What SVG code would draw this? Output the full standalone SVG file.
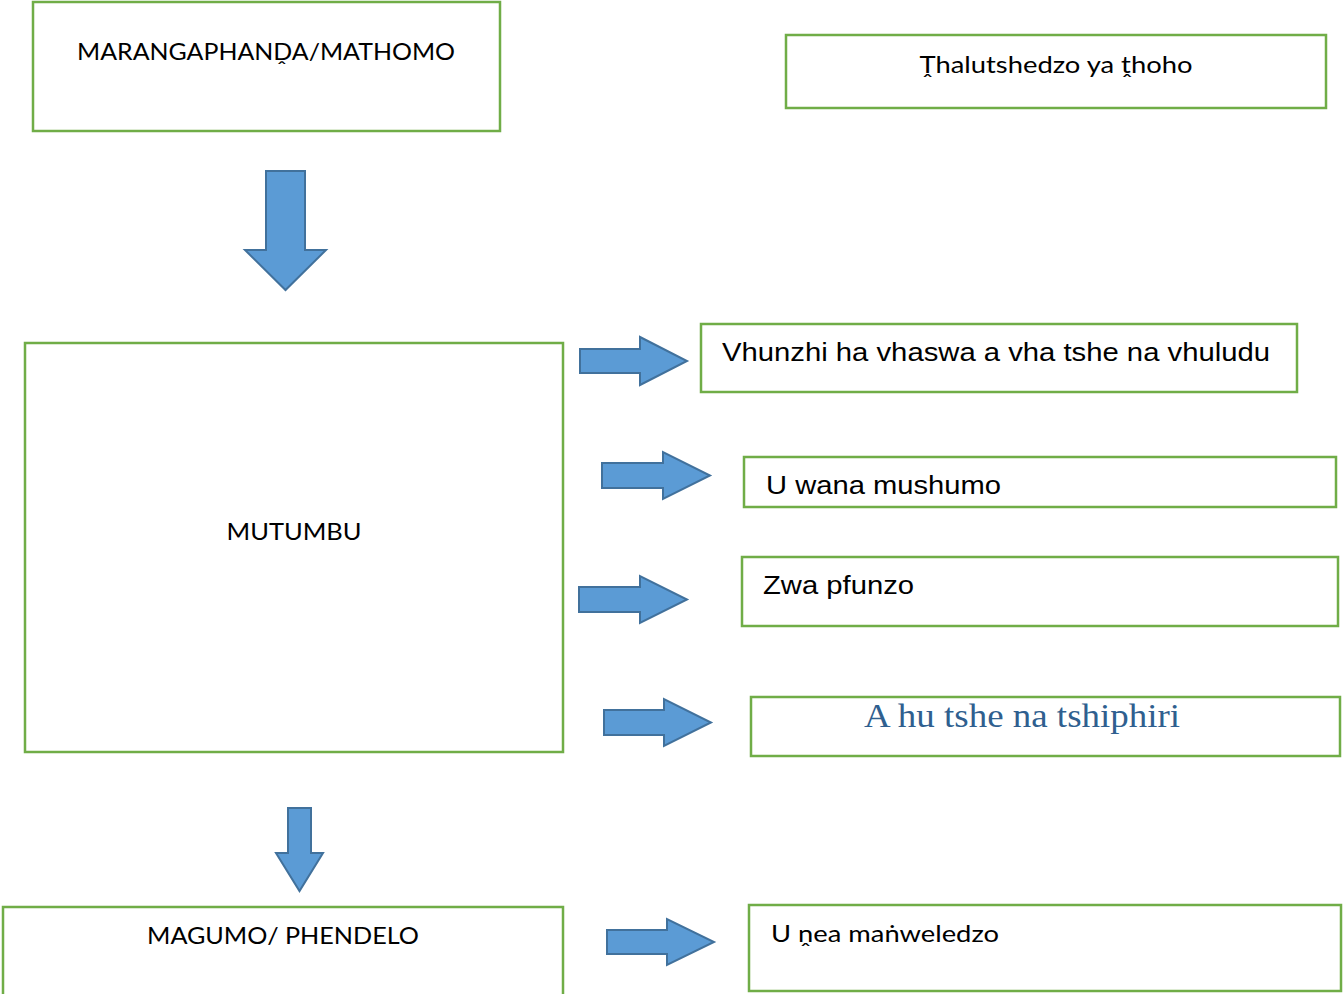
<svg xmlns="http://www.w3.org/2000/svg" width="1343" height="994" viewBox="0 0 1343 994">
<style>
.box{fill:#fff;stroke:#70ad47;stroke-width:2.5}
.arr{fill:#5b9bd5;stroke:#41719c;stroke-width:2;stroke-linejoin:miter}
.c{font-family:Lato,"Open Sans","Noto Sans",sans-serif;font-size:24px;fill:#000}
.a{font-family:"Liberation Sans",Arial,sans-serif;font-size:25px;fill:#000}
.g{font-family:"Liberation Serif","DejaVu Serif",serif;font-size:33px;fill:#2f5f8f}
</style>
<rect width="1343" height="994" fill="#fff"/>
<g id="node-marangaphanda"><rect class="box" x="33" y="2" width="467" height="129"/><text class="c" x="266" y="60" text-anchor="middle" textLength="378" lengthAdjust="spacingAndGlyphs">MARANGAPHANḒA/MATHOMO</text></g>
<g id="node-thalutshedzo"><rect class="box" x="786" y="35" width="540" height="73"/><text class="c" x="1056" y="73" text-anchor="middle" textLength="273" lengthAdjust="spacingAndGlyphs">Ṱhalutshedzo ya ṱhoho</text></g>
<g id="node-mutumbu"><rect class="box" x="25" y="343" width="538" height="409"/><text class="c" x="294" y="540" text-anchor="middle" textLength="135" lengthAdjust="spacingAndGlyphs">MUTUMBU</text></g>
<g id="node-vhunzhi"><rect class="box" x="701" y="324" width="596" height="68"/><text class="a" x="722" y="361" textLength="548" lengthAdjust="spacingAndGlyphs">Vhunzhi ha vhaswa a vha tshe na vhuludu</text></g>
<g id="node-uwana"><rect class="box" x="744" y="457" width="592" height="50"/><text class="a" x="766" y="494" textLength="235" lengthAdjust="spacingAndGlyphs">U wana mushumo</text></g>
<g id="node-zwapfunzo"><rect class="box" x="742" y="557" width="596" height="69"/><text class="a" x="763" y="594" textLength="151" lengthAdjust="spacingAndGlyphs">Zwa pfunzo</text></g>
<g id="node-ahutshe"><rect class="box" x="751" y="697" width="589" height="59"/><text class="g" x="1022" y="727" text-anchor="middle" textLength="316" lengthAdjust="spacingAndGlyphs">A hu tshe na tshiphiri</text></g>
<g id="node-magumo"><rect class="box" x="3" y="907" width="560" height="90"/><text class="c" x="283" y="944" text-anchor="middle" textLength="272" lengthAdjust="spacingAndGlyphs">MAGUMO/ PHENDELO</text></g>
<g id="node-unea"><rect class="box" x="749" y="905" width="592" height="86"/><text class="c" x="771" y="942" textLength="228" lengthAdjust="spacingAndGlyphs">U ṋea maṅweledzo</text></g>
<g id="connectors">
<path class="arr" d="M266,171 H305 V250 H326 L285.5,290 L245,250 H266 Z"/>
<path class="arr" d="M288,808 H311 V853 H323 L299.5,891 L276,853 H288 Z"/>
<path class="arr" d="M580,349 H640 V337 L687,361 L640,385 V373 H580 Z"/>
<path class="arr" d="M602,463 H663 V452 L710,475.5 L663,499 V488 H602 Z"/>
<path class="arr" d="M579,587 H640 V576 L687,599.5 L640,623 V612 H579 Z"/>
<path class="arr" d="M604,710 H664 V699 L711,722.5 L664,746 V735 H604 Z"/>
<path class="arr" d="M607,930 H667 V919 L714,942 L667,965 V954 H607 Z"/>
</g>
</svg>
